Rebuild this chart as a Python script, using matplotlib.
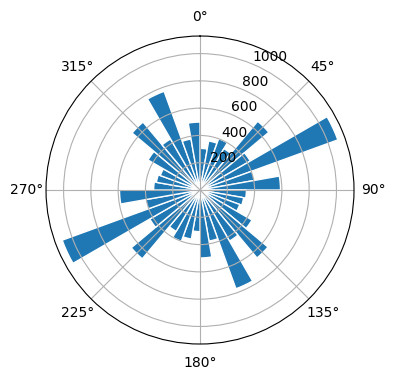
import numpy as np
import matplotlib
matplotlib.use("Agg")
import matplotlib.pyplot as plt

# direction bins (left edge, degrees clockwise from north) and bar heights
bin_start = np.arange(0, 360, 10)
counts = [305, 365, 400, 350, 658, 425, 1075, 405, 590,
          340, 325, 310, 440, 650, 432, 770, 380, 498,
          305, 365, 400, 350, 658, 425, 1075, 405, 590,
          340, 325, 310, 440, 650, 432, 770, 380, 498]
bin_width = 10

fig = plt.figure(figsize=(3.96, 3.8), dpi=100)
ax = fig.add_axes([0.1162, 0.0947, 0.7778, 0.8105], projection="polar")
ax.set_theta_zero_location("N")
ax.set_theta_direction(-1)

ax.bar(np.deg2rad(bin_start), counts, width=np.deg2rad(bin_width),
       align="edge", color="#1f77b4", edgecolor="white", linewidth=1)
ax.set_rticks([200, 400, 600, 800, 1000])

fig.savefig("out.png", dpi=100)
